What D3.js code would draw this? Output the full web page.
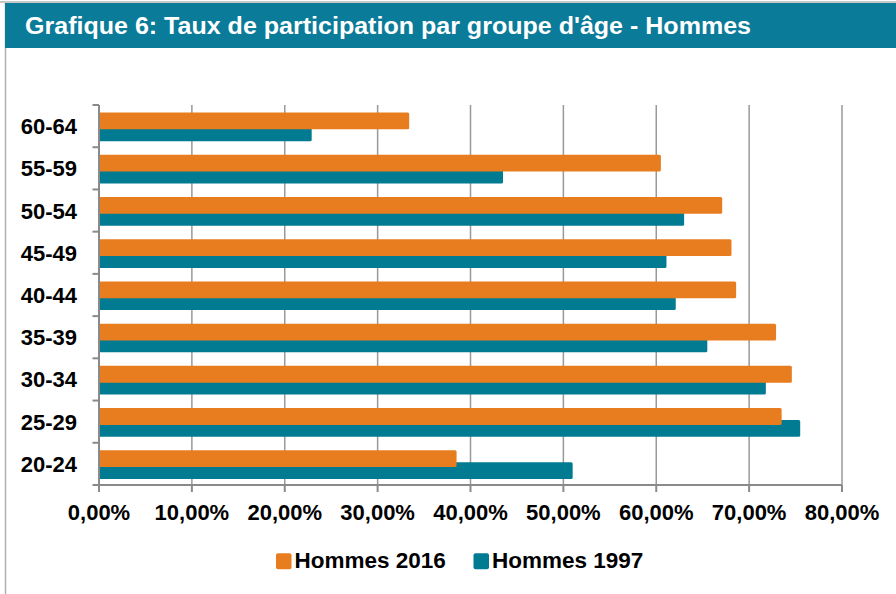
<!DOCTYPE html>
<html>
<head>
<meta charset="utf-8">
<script src="https://cdn.jsdelivr.net/npm/d3@7"></script>
<style>
  html, body { margin: 0; padding: 0; background: #fff; }
  svg { display: block; }
  text { font-family: "Liberation Sans", Arial, Helvetica, sans-serif; font-weight: bold; }
</style>
</head>
<body>
<div id="chart"></div>
<script>
// ---- Data ----
const title = "Grafique 6: Taux de participation par groupe d'âge - Hommes";
const categories = ["60-64", "55-59", "50-54", "45-49", "40-44", "35-39", "30-34", "25-29", "20-24"];
const hommes2016 = [33.4, 60.5, 67.1, 68.1, 68.6, 72.9, 74.6, 73.5, 38.5];
const hommes1997 = [22.9, 43.5, 63.0, 61.1, 62.1, 65.5, 71.8, 75.5, 51.0];
const xTicks = [0, 10, 20, 30, 40, 50, 60, 70, 80];
const seriesNames = ["Hommes 2016", "Hommes 1997"];
const seriesColors = ["#E87D1F", "#007B92"];

// ---- Layout ----
const W = 896, H = 594;
const plot = { left: 99, right: 842, top: 105, bottom: 485 };
const axisColor = "#8a8a8a";

const svg = d3.select("#chart").append("svg")
  .attr("width", W).attr("height", H);

svg.append("rect").attr("width", W).attr("height", H).attr("fill", "#fff");

// frame lines
svg.append("line").attr("x1", 0).attr("x2", W).attr("y1", 2).attr("y2", 2)
  .attr("stroke", "#b5b5b5").attr("stroke-width", 1.5);
svg.append("line").attr("x1", 5.5).attr("x2", 5.5).attr("y1", 3).attr("y2", H)
  .attr("stroke", "#b0b0b0").attr("stroke-width", 1.5);

// title bar
svg.append("rect").attr("x", 5).attr("y", 3).attr("width", W - 5).attr("height", 45)
  .attr("fill", "#0A7B99");
svg.append("text").attr("x", 25).attr("y", 34.3)
  .attr("fill", "#fff").attr("font-size", 23)
  .attr("textLength", 726).attr("lengthAdjust", "spacingAndGlyphs")
  .text(title);

// scales
const x = d3.scaleLinear().domain([0, 80]).range([plot.left, plot.right]);
const y = d3.scaleBand().domain(categories).range([plot.top, plot.bottom]).padding(0);
const bw = y.bandwidth();

// gridlines
svg.append("g").selectAll("line").data(xTicks.filter(t => t > 0)).join("line")
  .attr("x1", d => x(d)).attr("x2", d => x(d))
  .attr("y1", plot.top).attr("y2", plot.bottom)
  .attr("stroke", "#999").attr("stroke-width", 1.5);

// bars: 1997 first (beneath), then 2016 on top
const rows = categories.map((c, i) => ({ c, v16: hommes2016[i], v97: hommes1997[i] }));
const barH = bw * 0.398;
svg.append("g").selectAll("rect").data(rows).join("rect")
  .attr("x", x(0)).attr("y", d => y(d.c) + bw * 0.46)
  .attr("width", d => x(d.v97) - x(0)).attr("height", barH)
  .attr("rx", 1.5).attr("fill", seriesColors[1]);
svg.append("g").selectAll("rect").data(rows).join("rect")
  .attr("x", x(0)).attr("y", d => y(d.c) + bw * 0.178)
  .attr("width", d => x(d.v16) - x(0)).attr("height", barH)
  .attr("rx", 1.5).attr("fill", seriesColors[0]);

// y axis
const yAxisG = svg.append("g");
yAxisG.append("line").attr("x1", plot.left).attr("x2", plot.left)
  .attr("y1", plot.top).attr("y2", plot.bottom)
  .attr("stroke", axisColor).attr("stroke-width", 2);
const yBounds = categories.map(c => y(c)).concat([plot.bottom]);
yAxisG.selectAll("line.tick").data(yBounds).join("line").attr("class", "tick")
  .attr("x1", plot.left - 6.5).attr("x2", plot.left)
  .attr("y1", d => d).attr("y2", d => d)
  .attr("stroke", axisColor).attr("stroke-width", 2);
yAxisG.selectAll("text").data(categories).join("text")
  .attr("x", 77).attr("y", d => y(d) + bw / 2 + 8)
  .attr("text-anchor", "end").attr("font-size", 22).attr("fill", "#000")
  .text(d => d);

// x axis
const xAxisG = svg.append("g");
xAxisG.append("line").attr("x1", plot.left).attr("x2", plot.right)
  .attr("y1", plot.bottom).attr("y2", plot.bottom)
  .attr("stroke", axisColor).attr("stroke-width", 2);
xAxisG.selectAll("line.tick").data(xTicks).join("line").attr("class", "tick")
  .attr("x1", d => x(d)).attr("x2", d => x(d))
  .attr("y1", plot.bottom).attr("y2", plot.bottom + 7)
  .attr("stroke", axisColor).attr("stroke-width", 2);
const fmt = v => v.toFixed(2).replace(".", ",") + "%";
xAxisG.selectAll("text").data(xTicks).join("text")
  .attr("x", d => x(d)).attr("y", 519.5)
  .attr("text-anchor", "middle").attr("font-size", 22).attr("fill", "#000")
  .text(d => fmt(d));

// legend
const legendX = [276, 473.5];
const lg = svg.append("g").selectAll("g").data(seriesNames).join("g")
  .attr("transform", (d, i) => `translate(${legendX[i]},553.3)`);
lg.append("rect").attr("width", 15.5).attr("height", 16).attr("rx", 2)
  .attr("fill", (d, i) => seriesColors[i]);
lg.append("text").attr("x", 18.5).attr("y", 15).attr("font-size", 22.5)
  .attr("fill", "#000").text(d => d);
</script>
</body>
</html>
